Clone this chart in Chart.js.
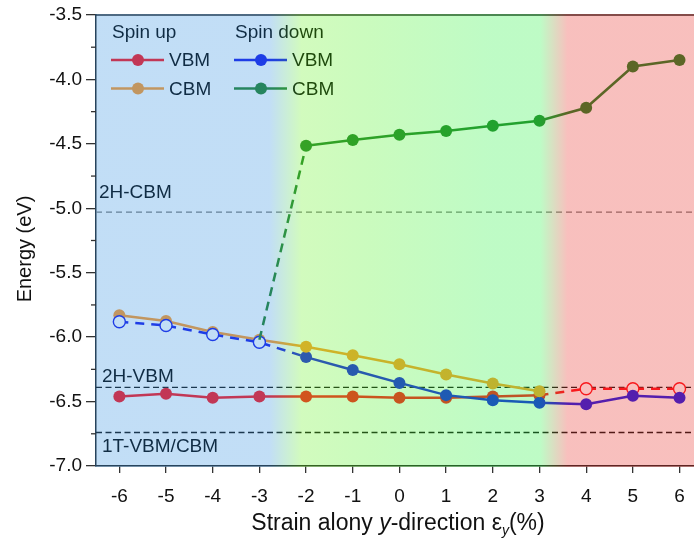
<!DOCTYPE html>
<html><head><meta charset="utf-8">
<script src="https://cdn.jsdelivr.net/npm/chart.js@4.4.1/dist/chart.umd.min.js"></script>
<style>html,body{margin:0;padding:0;background:#fff}#wrap{width:694px;height:549px}</style>
</head><body><div id="wrap"><canvas id="c" width="694" height="549"></canvas></div>
<script>
// ---------- data ----------
const strain      = [-6, -5, -4, -3, -2, -1, 0, 1, 2, 3, 4, 5, 6];
const upVBM       = [-6.46, -6.44, -6.47, -6.46, -6.46, -6.46, -6.47, -6.47, -6.46, -6.45, null, null, null];
const upVBMdash   = [null, null, null, null, null, null, null, null, null, -6.45, -6.40, -6.40, -6.40];
const upCBM       = [-5.83, -5.875, -5.96, -6.02, -6.075, -6.14, -6.21, -6.29, -6.36, -6.42, null, null, null];
const downVBMdash = [-5.88, -5.91, -5.98, -6.04, -6.155, null, null, null, null, null, null, null, null];
const downVBM     = [null, null, null, null, -6.155, -6.255, -6.355, -6.45, -6.49, -6.51, -6.52, -6.455, -6.47];
const downCBMdash = [null, null, null, -6.02, -4.515, null, null, null, null, null, null, null, null];
const downCBM     = [null, null, null, null, -4.515, -4.47, -4.43, -4.40, -4.36, -4.32, -4.22, -3.90, -3.85];
const yTicks      = [-3.5, -4.0, -4.5, -5.0, -5.5, -6.0, -6.5, -7.0];
const refLevels   = [-5.03, -6.39, -6.74];
const refLabels   = ['2H-CBM', '2H-VBM', '1T-VBM/CBM'];

// ---------- styles ----------
const FF = '"Liberation Sans", Arial, Helvetica, sans-serif';
const C_UP_VBM = 'rgb(255,16,25)';
const C_UP_CBM = 'rgb(255,152,40)';
const C_DN_VBM = 'rgb(20,24,232)';
const C_DN_CBM = 'rgb(31,127,38)';
const R = 6;

function pts(arr){ return strain.map((x,i)=>({x:x, y:arr[i]})).filter(p=>p.y!==null); }
function junction(solid){ return ctx => (ctx.raw && solid[strain.indexOf(ctx.raw.x)] !== null) ? 0 : R; }

const base = {borderWidth:2.5, tension:0, pointRadius:R, pointHoverRadius:R, pointBorderWidth:0, fill:false};

const datasets = [
  Object.assign({}, base, {label:'dnCBM', data:pts(downCBM), borderColor:C_DN_CBM, pointBackgroundColor:C_DN_CBM, order:1}),
  Object.assign({}, base, {label:'dnCBMd', data:pts(downCBMdash), borderColor:C_DN_CBM, borderDash:[9,6], pointRadius:0, order:2}),
  Object.assign({}, base, {label:'dnVBMd', data:pts(downVBMdash), borderColor:C_DN_VBM, borderDash:[9,7],
     pointRadius:junction(downVBM), pointBackgroundColor:'#fff', pointBorderColor:C_DN_VBM, pointBorderWidth:1.4, order:3}),
  Object.assign({}, base, {label:'upCBM', data:pts(upCBM), borderColor:C_UP_CBM, pointBackgroundColor:C_UP_CBM, order:4}),
  Object.assign({}, base, {label:'dnVBM', data:pts(downVBM), borderColor:C_DN_VBM, pointBackgroundColor:C_DN_VBM, order:5}),
  Object.assign({}, base, {label:'upVBM', data:pts(upVBM), borderColor:C_UP_VBM, pointBackgroundColor:C_UP_VBM, order:6}),
  Object.assign({}, base, {label:'upVBMd', data:pts(upVBMdash), borderColor:C_UP_VBM, borderDash:[9,7],
     pointRadius:junction(upVBM), pointBackgroundColor:'#fff', pointBorderColor:C_UP_VBM, pointBorderWidth:1.4, order:7}),
];

const legendGroups = [
  {title:'Spin up',   items:[['VBM', C_UP_VBM], ['CBM', C_UP_CBM]]},
  {title:'Spin down', items:[['VBM', C_DN_VBM], ['CBM', C_DN_CBM]]},
];

const decor = {
  id:'decor',
  beforeDatasetsDraw(chart){
    const ctx = chart.ctx, ca = chart.chartArea, ys = chart.scales.y;
    ctx.save();
    const offs = [-19, -11, 14];
    refLevels.forEach((v,i)=>{
      const y = ys.getPixelForValue(v);
      ctx.beginPath();
      ctx.setLineDash(i===0 ? [6,4] : [6,3.5]);
      ctx.strokeStyle = i===0 ? '#7a7a7a' : '#111';
      ctx.lineWidth = 1.4;
      ctx.moveTo(ca.left, y); ctx.lineTo(ca.right, y); ctx.stroke();
      ctx.setLineDash([]);
      ctx.fillStyle = '#000';
      ctx.font = '19px ' + FF;
      ctx.textBaseline = 'middle'; ctx.textAlign = 'left';
      ctx.fillText(refLabels[i], ca.left + (i===0 ? 3 : 6), y + offs[i]);
    });
    ctx.restore();
  },
  afterDatasetsDraw(chart){
    const ctx = chart.ctx, ca = chart.chartArea, xs = chart.scales.x;
    ctx.save();
    // top border
    ctx.strokeStyle = '#222'; ctx.lineWidth = 1.5;
    ctx.beginPath(); ctx.moveTo(ca.left, ca.top); ctx.lineTo(ca.right, ca.top); ctx.stroke();
    // legend
    legendGroups.forEach((g,gi)=>{
      const x0 = ca.left + 15 + gi*123;
      ctx.fillStyle = '#000'; ctx.font = '19px ' + FF;
      ctx.textBaseline = 'middle'; ctx.textAlign = 'left';
      ctx.fillText(g.title, x0 + 1, ca.top + 18);
      g.items.forEach((it,ii)=>{
        const y = ca.top + 45 + ii*28.5;
        ctx.strokeStyle = it[1]; ctx.lineWidth = 2.5;
        ctx.beginPath(); ctx.moveTo(x0, y); ctx.lineTo(x0 + 53, y); ctx.stroke();
        ctx.fillStyle = it[1];
        ctx.beginPath(); ctx.arc(x0 + 27, y, R, 0, Math.PI*2); ctx.fill();
        ctx.fillStyle = '#000';
        ctx.fillText(it[0], x0 + 58, y + 1);
      });
    });
    // translucent colour zones over everything in the plot
    const w = ca.right - ca.left;
    const t = v => Math.min(1, Math.max(0, (xs.getPixelForValue(v) - ca.left) / w));
    const g = ctx.createLinearGradient(ca.left, 0, ca.right, 0);
    g.addColorStop(0, 'rgba(52,145,225,0.3)');
    g.addColorStop(t(-2.78), 'rgba(52,145,225,0.3)');
    g.addColorStop(t(-2.1), 'rgba(105,242,38,0.3)');
    g.addColorStop(t(-0.6), 'rgba(80,242,40,0.3)');
    g.addColorStop(t(2.0), 'rgba(40,242,65,0.3)');
    g.addColorStop(t(3.02), 'rgba(40,242,65,0.3)');
    g.addColorStop(t(3.6), 'rgba(232,45,38,0.3)');
    g.addColorStop(1, 'rgba(232,45,38,0.3)');
    ctx.fillStyle = g;
    ctx.fillRect(ca.left - 1, ca.top - 1, w + 1, ca.bottom - ca.top + 2);
    ctx.restore();
  },
  afterDraw(chart){
    const ctx = chart.ctx, ca = chart.chartArea, ys = chart.scales.y;
    ctx.save();
    // minor y ticks
    ctx.strokeStyle = '#333'; ctx.lineWidth = 1.3;
    for (let i = 0; i < yTicks.length - 1; i++){
      const y = ys.getPixelForValue((yTicks[i] + yTicks[i+1]) / 2);
      ctx.beginPath(); ctx.moveTo(ca.left - 5, y); ctx.lineTo(ca.left, y); ctx.stroke();
    }
    // y title
    ctx.fillStyle = '#111';
    ctx.font = '20px ' + FF; ctx.textAlign = 'center'; ctx.textBaseline = 'middle';
    ctx.translate(25, 249); ctx.rotate(-Math.PI/2);
    ctx.fillText('Energy (eV)', 0, 0);
    ctx.restore();
    // x title with italic y and subscript
    ctx.save();
    const fs = 23;
    const parts = [
      {t:'Strain alony ', f:fs+'px '+FF, dy:0},
      {t:'y', f:'italic '+fs+'px '+FF, dy:0},
      {t:'-direction \u03b5', f:fs+'px '+FF, dy:0},
      {t:'y', f:'italic '+Math.round(fs*0.62)+'px '+FF, dy:7},
      {t:'(%)', f:fs+'px '+FF, dy:0},
    ];
    let total = 0;
    parts.forEach(p=>{ ctx.font = p.f; p.w = ctx.measureText(p.t).width; total += p.w; });
    let x = 398 - total/2;
    ctx.fillStyle = '#111'; ctx.textBaseline = 'middle'; ctx.textAlign = 'left';
    parts.forEach(p=>{ ctx.font = p.f; ctx.fillText(p.t, x, 524 + p.dy); x += p.w; });
    ctx.restore();
  }
};

new Chart(document.getElementById('c'), {
  type:'line',
  data:{datasets:datasets},
  options:{
    responsive:false, animation:false, events:[],
    layout:{autoPadding:false, padding:{top:15, right:0, left:0, bottom:0}},
    plugins:{legend:{display:false}, tooltip:{enabled:false}},
    scales:{
      x:{type:'linear', min:-6.5, max:6.31,
         afterBuildTicks: s => { s.ticks = strain.map(v=>({value:v})); },
         afterFit: s => { s.height = 83; s.paddingLeft = 0; s.paddingRight = 0; },
         grid:{drawOnChartArea:false, drawTicks:true, tickLength:7, color:'#333', lineWidth:1.3},
         border:{display:true, color:'#222', width:1.5},
         ticks:{color:'#111', font:{family:FF, size:19}, padding:12, maxRotation:0, autoSkip:false,
                callback: v => String(v)}},
      y:{type:'linear', min:-7, max:-3.5,
         afterBuildTicks: s => { s.ticks = yTicks.map(v=>({value:v})); },
         afterFit: s => { s.width = 96; s.paddingTop = 0; s.paddingBottom = 0; },
         grid:{drawOnChartArea:false, drawTicks:true, tickLength:10, color:'#333', lineWidth:1.3},
         border:{display:true, color:'#222', width:1.5},
         ticks:{color:'#111', font:{family:FF, size:19}, padding:4, callback: v => v.toFixed(1)}}
    }
  },
  plugins:[decor]
});
</script>
</body></html>
